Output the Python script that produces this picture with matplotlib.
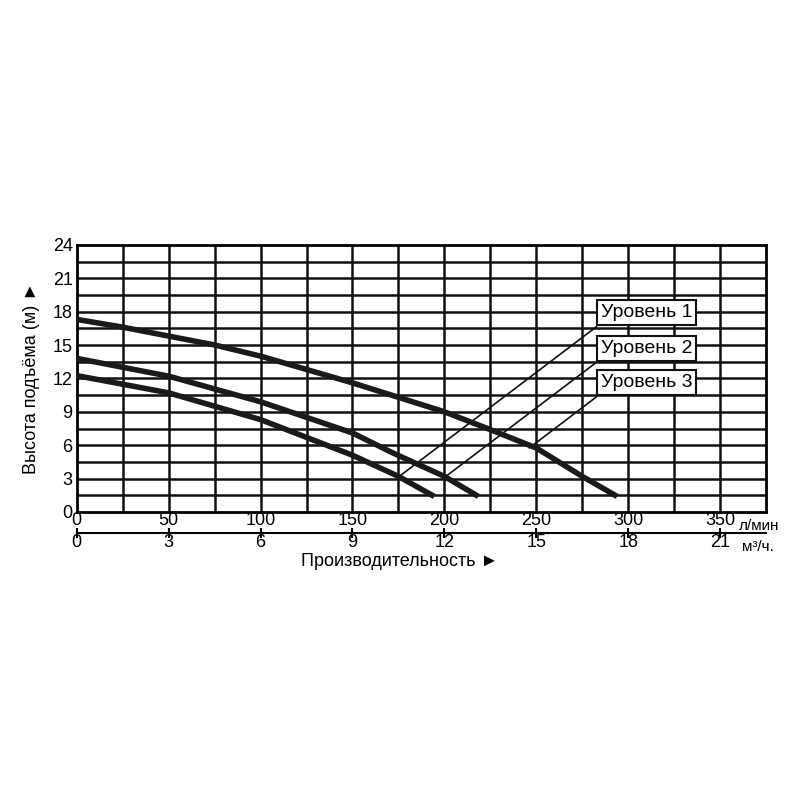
import matplotlib
matplotlib.use("Agg")
import matplotlib.pyplot as plt
import numpy as np

plt.rcParams['font.family'] = ['Liberation Sans', 'DejaVu Sans']

# data (flow l/min, head m)
q1 = [0, 25, 50, 75, 100, 125, 150, 175, 200, 225, 250, 275, 294]
h1 = [17.3, 16.6, 15.8, 15.0, 14.0, 12.8, 11.6, 10.3, 9.0, 7.4, 5.75, 3.2, 1.4]
q2 = [0, 50, 100, 150, 172, 200, 218.5]
h2 = [13.8, 12.2, 9.9, 7.1, 5.3, 3.2, 1.4]
q3 = [0, 50, 100, 150, 175, 194.5]
h3 = [12.25, 10.7, 8.3, 5.1, 3.2, 1.4]
labels = ["Уровень 1", "Уровень 2", "Уровень 3"]
label_y = [17.9, 14.7, 11.6]
leader_end = [(175.5, 3.2), (200, 3.1), (245, 5.6)]
lmin_ticks = [0, 50, 100, 150, 200, 250, 300, 350]
m3h_ticks = [0, 3, 6, 9, 12, 15, 18, 21]
yticks = [0, 3, 6, 9, 12, 15, 18, 21, 24]

fig = plt.figure(figsize=(8, 8), dpi=100)
ax = fig.add_axes([0.096, 0.36, 0.8615, 0.334])
ax.set_xlim(0, 375)
ax.set_ylim(0, 24)
for x in np.arange(25, 375, 25):
    ax.axvline(x, color='#111', lw=1.8, zorder=1)
for y in np.arange(1.5, 24, 1.5):
    ax.axhline(y, color='#111', lw=1.8, zorder=1)
for s in ax.spines.values():
    s.set_linewidth(2)
for q, h in [(q1, h1), (q2, h2), (q3, h3)]:
    ax.plot(q, h, color='#1a1a1a', lw=4, zorder=3, solid_capstyle='butt')

for lab, ly, (ex, ey) in zip(labels, label_y, leader_end):
    ax.annotate("", xy=(ex, ey), xytext=(284, ly - 1.1),
                arrowprops=dict(arrowstyle='-', color='#111', lw=1.2), zorder=2)
    ax.text(285, ly, lab, fontsize=14, va='center', ha='left', zorder=5,
            bbox=dict(boxstyle='square,pad=0.2', fc='white', ec='#111', lw=1.5))

ax.set_yticks(yticks)
ax.set_yticklabels([str(v) for v in yticks], fontsize=13)
ax.tick_params(axis='y', length=0, pad=3)
ax.set_xticks(lmin_ticks)
ax.set_xticklabels([str(v) for v in lmin_ticks], fontsize=13)
ax.tick_params(axis='x', length=0, pad=0)

sec = ax.secondary_xaxis(-0.078, functions=(lambda x: x * 0.06, lambda x: x / 0.06))
sec.set_xticks(m3h_ticks)
sec.set_xticklabels([str(v) for v in m3h_ticks], fontsize=13)
sec.tick_params(axis='x', direction='inout', length=7, width=1.5, pad=-3)
sec.spines['bottom'].set_linewidth(1.5)

ax.text(360, -0.6, "л/мин", transform=ax.transData, fontsize=11, va='top', ha='left')
ax.text(362, -2.5, "м³/ч.", transform=ax.transData, fontsize=11, va='top', ha='left')

fig.text(0.5, 0.298, "Производительность ►", fontsize=13, ha='center', va='center')
fig.text(0.04, 0.527, "Высота подъёма (м) ►", fontsize=13, ha='center', va='center', rotation=90)

fig.savefig("out.png", dpi=100)
